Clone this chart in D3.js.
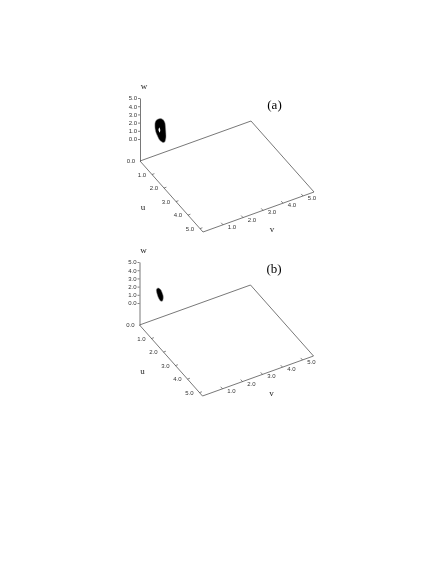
<!DOCTYPE html>
<html>
<head>
<meta charset="utf-8">
<script src="https://cdn.jsdelivr.net/npm/d3@7"></script>
<style>
  html, body { margin: 0; padding: 0; background: #fff; }
  svg { display: block; background: #fff; filter: blur(0.3px); }
</style>
</head>
<body>
<svg></svg>
<script>
const panelLabels = ["(a)", "(b)"];
const uTicks = [1, 2, 3, 4, 5];
const vTicks = [1, 2, 3, 4, 5];
const wTicks = [0, 1, 2, 3, 4, 5];

// orbit outlines, one list per coordinate
const orbitU = 0.5;
const orbitVa = [0.7, 0.85, 0.95, 0.985, 1.0, 0.95, 0.85, 0.675, 0.55, 0.49, 0.45, 0.45, 0.525];
const orbitWa = [2.71, 2.45, 1.94, 1.06, 0.19, -0.32, -0.35, 0.11, 0.83, 1.25, 1.77, 2.38, 2.68];
const holeVa = [0.665, 0.715, 0.685, 0.625];
const holeWa = [1.63, 1.29, 0.99, 1.37];
const orbitVb = [0.65, 0.775, 0.875, 0.89, 0.85, 0.75, 0.64, 0.565, 0.54, 0.575];
const orbitWb = [2.08, 1.73, 1.03, 0.65, 0.32, 0.41, 0.93, 1.55, 1.93, 2.09];

const svgWidth = 443;
const svgHeight = 573;
const lineColor = "#555";
const tickColor = "#333";

const svg = d3
  .select("svg")
  .attr("width", svgWidth)
  .attr("height", svgHeight);

// oblique projection of the box, in pixels from the origin corner
const uX = d3.scaleLinear().domain([0, 5.25]).range([0, 63]);
const uY = d3.scaleLinear().domain([0, 5.25]).range([0, 71]);
const vX = d3.scaleLinear().domain([0, 5.55]).range([0, 111]);
const vY = d3.scaleLinear().domain([0, 5.55]).range([0, -40]);
const wY = d3.scaleLinear().domain([-2.68, 5]).range([161, 98]);

const project = (u, v, w) => [uX(u) + vX(v), wY(w) + uY(u) + vY(v)];
const line = d3.line();
const closed = d3.line().curve(d3.curveCardinalClosed.tension(0.3));

function drawPanel(label, orbitV, orbitW, hV, hW, dx, dy) {
  const g = svg
    .append("g")
    .attr("transform", "translate(" + (140 + dx) + "," + dy + ")");

  // floor of the box
  const floor = [[0, 0], [5.25, 0], [5.25, 5.55], [0, 5.55], [0, 0]];
  g.append("path")
    .attr("d", line(floor.map(d => project(d[0], d[1], -2.68))))
    .attr("fill", "none")
    .attr("stroke", lineColor)
    .attr("stroke-width", 0.8);

  // w axis
  const wAxis = d3
    .axisLeft(wY)
    .tickValues(wTicks)
    .tickSize(2)
    .tickPadding(1)
    .tickSizeOuter(0)
    .tickFormat(d3.format(".1f"));
  const wg = g.append("g").call(wAxis);
  wg.select(".domain").attr("stroke", lineColor).attr("stroke-width", 0.8);
  wg.selectAll(".tick line").attr("stroke", tickColor).attr("stroke-width", 0.6);
  wg.selectAll("text")
    .attr("font-family", "Liberation Sans")
    .attr("font-size", 6)
    .attr("fill", tickColor);

  // u ticks
  uTicks.forEach(t => {
    const a = project(t, 0, -2.68);
    const b = project(t, 0.12, -2.68);
    g.append("path").attr("d", line([a, b])).attr("stroke", tickColor).attr("stroke-width", 0.6);
    g.append("text")
      .attr("x", a[0] - 10)
      .attr("y", a[1] + 2)
      .attr("text-anchor", "middle")
      .attr("font-family", "Liberation Sans")
      .attr("font-size", 6)
      .attr("fill", tickColor)
      .text(d3.format(".1f")(t));
  });

  // v ticks
  vTicks.forEach(t => {
    const a = project(5.25, t, -2.68);
    const b = project(5.1, t, -2.68);
    g.append("path").attr("d", line([a, b])).attr("stroke", tickColor).attr("stroke-width", 0.6);
    g.append("text")
      .attr("x", a[0] + 9)
      .attr("y", a[1] + 4)
      .attr("text-anchor", "middle")
      .attr("font-family", "Liberation Sans")
      .attr("font-size", 6)
      .attr("fill", tickColor)
      .text(d3.format(".1f")(t));
  });

  // origin label
  g.append("text")
    .attr("x", -9)
    .attr("y", 163)
    .attr("text-anchor", "middle")
    .attr("font-family", "Liberation Sans")
    .attr("font-size", 6)
    .attr("fill", tickColor)
    .text("0.0");

  // the orbit, drawn as its solid outline with the hole left in it
  g.append("path")
    .attr("d", closed(orbitV.map((v, i) => project(orbitU, v, orbitW[i]))))
    .attr("fill", "#000")
    .attr("stroke", "#999")
    .attr("stroke-width", 0.5);
  if (hV.length) {
    g.append("path")
      .attr("d", closed(hV.map((v, i) => project(orbitU, v, hW[i]))))
      .attr("fill", "#fff");
  }

  // axis names
  const names = [["w", 4, 89], ["u", 3, 210], ["v", 132, 232]];
  names.forEach(n => {
    g.append("text")
      .attr("x", n[1])
      .attr("y", n[2])
      .attr("text-anchor", "middle")
      .attr("font-family", "Liberation Serif")
      .attr("font-size", 9)
      .attr("fill", "#222")
      .text(n[0]);
  });

  g.append("text")
    .attr("x", 134.5)
    .attr("y", 108.5)
    .attr("text-anchor", "middle")
    .attr("font-family", "Liberation Serif")
    .attr("font-size", 13)
    .attr("fill", "#000")
    .text(label);
}

drawPanel(panelLabels[0], orbitVa, orbitWa, holeVa, holeWa, 0, 0);
drawPanel(panelLabels[1], orbitVb, orbitWb, [], [], -0.5, 164);
</script>
</body>
</html>
